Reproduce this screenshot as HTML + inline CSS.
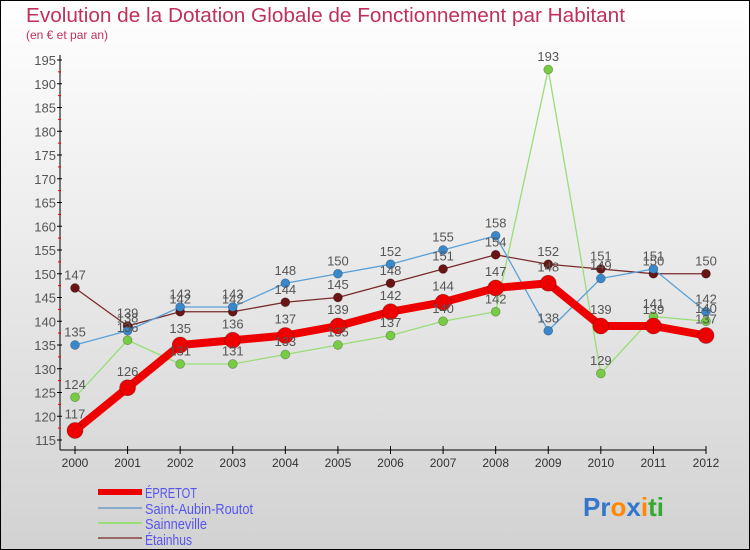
<!DOCTYPE html>
<html><head><meta charset="utf-8"><style>
html,body{margin:0;padding:0;}
body{width:750px;height:550px;overflow:hidden;font-family:"Liberation Sans",sans-serif;}
svg{display:block;}
</style></head><body>
<svg id="chart" width="750" height="550" xmlns="http://www.w3.org/2000/svg">
<defs><linearGradient id="bg" x1="0" y1="0" x2="0" y2="1"><stop offset="0" stop-color="#ffffff"/><stop offset="1" stop-color="#d2d2d2"/></linearGradient></defs>
<rect x="0.5" y="0.5" width="749" height="549" fill="url(#bg)" stroke="#000"/>
<text x="26" y="22" font-size="20" textLength="599" lengthAdjust="spacingAndGlyphs" fill="#c0305a">Evolution de la Dotation Globale de Fonctionnement par Habitant</text>
<text x="26" y="39" font-size="12" fill="#c0305a">(en € et par an)</text>
<g id="axes"></g><g id="series"></g><g id="labels"></g>
<g font-size="15" fill="#5555ee">
<line x1="98" y1="492" x2="142" y2="492" stroke="#ee0000" stroke-width="6"/>
<text x="145" y="498" textLength="52" lengthAdjust="spacingAndGlyphs">ÉPRETOT</text>
<line x1="98" y1="508" x2="142" y2="508" stroke="#88aacc" stroke-width="2"/>
<text x="145" y="514" textLength="108" lengthAdjust="spacingAndGlyphs">Saint-Aubin-Routot</text>
<line x1="98" y1="523" x2="142" y2="523" stroke="#99dd77" stroke-width="2"/>
<text x="145" y="529" textLength="62" lengthAdjust="spacingAndGlyphs">Sainneville</text>
<line x1="98" y1="538" x2="142" y2="538" stroke="#996666" stroke-width="2"/>
<text x="145" y="545" textLength="47" lengthAdjust="spacingAndGlyphs">Étainhus</text>
</g>
<text x="583" y="516" font-size="26" font-weight="bold"><tspan fill="#3377cc">Pr</tspan><tspan fill="#ff8800">o</tspan><tspan fill="#3377cc">x</tspan><tspan fill="#ff8800">i</tspan><tspan fill="#33aa33">ti</tspan></text>
</svg>
<script>
const years=[2000,2001,2002,2003,2004,2005,2006,2007,2008,2009,2010,2011,2012];
const epretot=[117,126,135,136,137,139,142,144,147,148,139,139,137];
const saintAubin=[135,138,143,143,148,150,152,155,158,138,149,151,142];
const sainneville=[124,136,131,131,133,135,137,140,142,193,129,141,140];
const etainhus=[147,139,142,142,144,145,148,151,154,152,151,150,150];
const yTicks=[115,120,125,130,135,140,145,150,155,160,165,170,175,180,185,190,195];
const NS='http://www.w3.org/2000/svg';
const X0=75,X1=706,Y0=440,Y1=60,VMIN=115,VMAX=195;
const xs=i=>X0+(X1-X0)*i/(years.length-1);
const ys=v=>Y0-(v-VMIN)*(Y0-Y1)/(VMAX-VMIN);
function mk(tag,attrs,parent){const e=document.createElementNS(NS,tag);for(const k in attrs)e.setAttribute(k,attrs[k]);parent.appendChild(e);return e;}
const axes=document.getElementById('axes'),ser=document.getElementById('series'),lab=document.getElementById('labels');
let a=mk('line',{x1:60,y1:55,x2:60,y2:450,stroke:'#000'},axes);


a=mk('line',{x1:60,y1:450,x2:X1,y2:450,stroke:'#000'},axes);


yTicks.forEach(v=>{
 const y=ys(v);
 mk('line',{x1:57,y1:y,x2:62,y2:y,stroke:'#000'},axes);
 if(v<VMAX){mk('line',{x1:58,y1:ys(v+2.5),x2:61,y2:ys(v+2.5),stroke:'#e00'},axes);}
 const t=mk('text',{x:56,y:y+5,'text-anchor':'end','font-size':13,fill:'#555'},axes);
 t.textContent=v;
 
 
});
years.forEach((yr,i)=>{
 const x=xs(i);
 mk('line',{x1:x,y1:446,x2:x,y2:454,stroke:'#000'},axes);
 const t=mk('text',{x:x,y:467,'text-anchor':'middle','font-size':12,fill:'#333'},axes);
 t.textContent=yr;
 
 
});
function draw(data,name,col,dot,w,r){
 const pts=data.map((v,i)=>xs(i)+','+ys(v)).join(' ');
 const l=mk('polyline',{points:pts,fill:'none',stroke:col,'stroke-width':w,'stroke-linejoin':'round'},ser);
 
 
 data.forEach((v,i)=>{
  const c=mk('circle',{cx:xs(i),cy:ys(v),r:r,fill:dot,stroke:'rgba(0,0,0,0.3)','stroke-width':0.7},ser);
  
  
  const t=mk('text',{x:xs(i),y:ys(v)-r-4,'text-anchor':'middle','font-size':13,fill:'#555'},lab);
  t.textContent=v;
  
  
 });
}
draw(etainhus,'etainhus','#7a2a2a','#6a1515',1.3,4.5);
draw(sainneville,'sainneville','#99dd77','#77cc44',1.3,4.5);
draw(saintAubin,'saint-aubin','#5aa0d8','#3a88cc',1.3,4.5);
draw(epretot,'epretot','#ee0000','#ee0000',8,8);
</script>
</body></html>
